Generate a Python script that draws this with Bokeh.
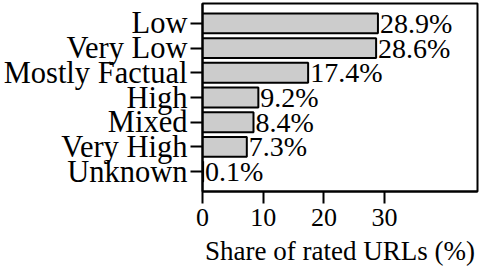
from bokeh.plotting import figure
from bokeh.models import ColumnDataSource, FactorRange, Range1d, FixedTicker
from bokeh.core.properties import value
from bokeh.embed import file_html
from bokeh.resources import INLINE

categories = ["Low", "Very Low", "Mostly Factual", "High", "Mixed", "Very High", "Unknown"]
shares = [28.9, 28.6, 17.4, 9.2, 8.4, 7.3, 0.1]
x_ticks = [0, 10, 20, 30]
x_label = "Share of rated URLs (%)"

FONT = "Liberation Serif"

src = ColumnDataSource(dict(
    cat=categories,
    share=shares,
    label=[f"{v:.1f}%" for v in shares],
))

p = figure(
    width=479, height=268,
    output_backend="svg", toolbar_location=None,
    y_range=FactorRange(factors=list(reversed(categories)), range_padding=0.6 / 7),
    x_range=Range1d(0, 45.3),
    min_border_left=202, min_border_right=2, min_border_top=3, min_border_bottom=73,
)

p.hbar(y="cat", right="share", left=0, height=0.8, source=src,
       fill_color="#cccccc", line_color="black", line_width=2)

p.text(x="share", y="cat", text="label", source=src,
       x_offset=2, text_baseline="middle", text_align="left",
       text_font=value(FONT), text_font_size="28px", text_color="black")

p.grid.visible = False
p.outline_line_color = "black"
p.outline_line_width = 2

xa = p.xaxis[0]
xa.ticker = FixedTicker(ticks=x_ticks)
xa.axis_label = x_label
xa.axis_label_text_font = FONT
xa.axis_label_text_font_style = "normal"
xa.axis_label_text_font_size = "27px"
xa.axis_label_text_color = "black"
xa.axis_label_standoff = 7
xa.major_label_text_font = FONT
xa.major_label_text_font_size = "26px"
xa.major_label_text_color = "black"
xa.major_label_standoff = 5
xa.major_tick_in = 0
xa.major_tick_out = 12
xa.major_tick_line_width = 2
xa.minor_tick_line_color = None
xa.axis_line_width = 2

ya = p.yaxis[0]
ya.major_label_text_font = FONT
ya.major_label_text_font_size = "30.5px"
ya.major_label_text_color = "black"
ya.major_label_standoff = 3
ya.major_tick_in = 0
ya.major_tick_out = 12
ya.major_tick_line_width = 2
ya.axis_line_width = 2
ya.minor_tick_line_color = None

open("out.html", "w").write(file_html(p, INLINE))
